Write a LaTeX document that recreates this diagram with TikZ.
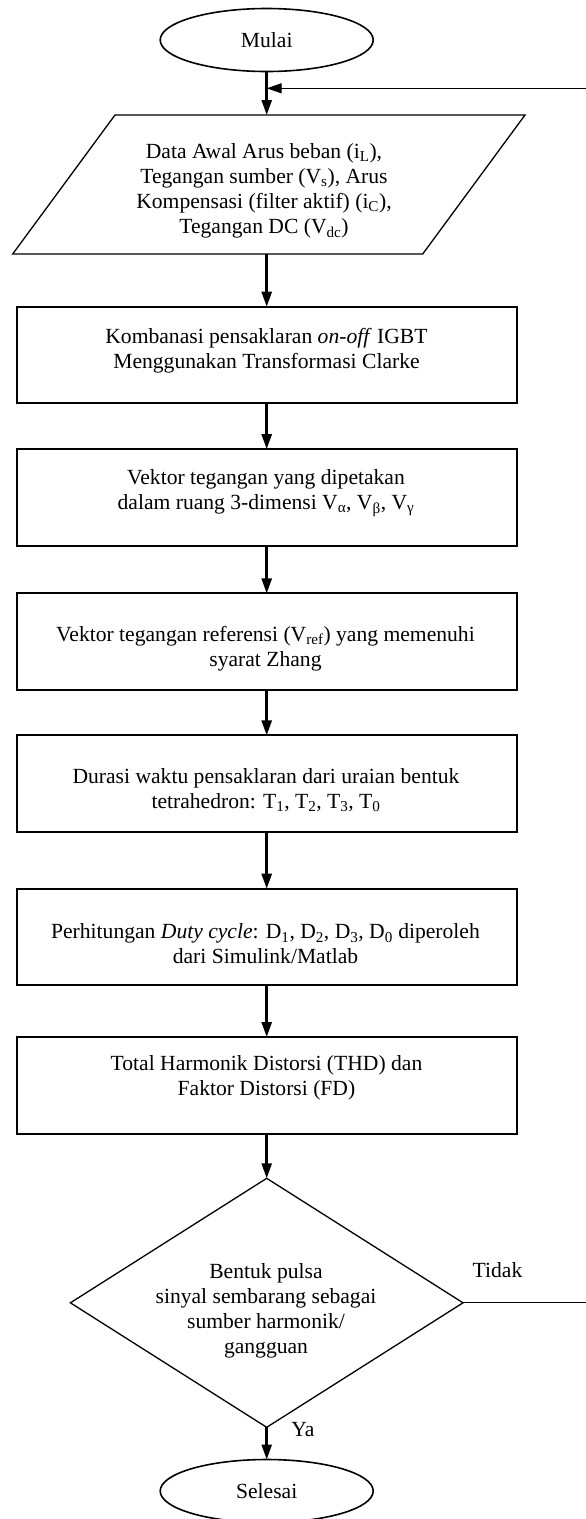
\documentclass[tikz,border=0pt]{standalone}
\usepackage{fontspec}
\setmainfont{Liberation Serif}
\usetikzlibrary{arrows.meta,shapes.geometric}
\newcommand\sbs[1]{\textsubscript{#1}}
\begin{document}
\begin{tikzpicture}[x=1pt,y=-1pt,
  every node/.style={font=\fontsize{21.6}{25}\selectfont, inner sep=0pt, outer sep=0pt},
  txt/.style={align=center},
  termnode/.style={draw, ellipse, line width=1.6pt, minimum width=213pt, minimum height=63pt},
  procbox/.style={draw, rectangle, line width=1.9pt, minimum width=499.8pt, minimum height=96.6pt},
  decision/.style={draw, diamond, line width=1.3pt, minimum width=392.6pt, minimum height=249pt},
  ioline/.style={draw, line width=1.3pt, line join=miter},
  flow/.style={line width=2.5pt, -{Triangle[length=15pt,width=10pt]}},
  fbflow/.style={line width=1.3pt, -{Triangle[length=15pt,width=10pt]}},
  fbplain/.style={line width=1.3pt}]
\useasboundingbox (0,0) rectangle (586,1519);
% start
\node[termnode] (mulai) at (266.7,40) {Mulai};
\coordinate (junc) at (266.7,88.3);
\coordinate (fbin) at (586,88.3);
% input parallelogram
\path[ioline] (115,115) -- (525,115) -- (422.7,254) -- (12.7,254) -- cycle;
\coordinate (ptop) at (266.7,115);
\coordinate (pbot) at (266.7,254);
\node[txt] (tpara) at (264,191) {Data Awal Arus beban (i\sbs{L}),\\Tegangan sumber (V\sbs{s}), Arus\\Kompensasi (filter aktif) (i\sbs{C}),\\Tegangan DC (V\sbs{dc})};
% process boxes
\node[procbox] (b1) at (266.7,355) {};
\node[txt] (t1) at (266.5,351) {Kombanasi pensaklaran \textit{on-off} IGBT\\Menggunakan Transformasi Clarke};
\node[procbox] (b2) at (266.7,497.4) {};
\node[txt] (t2) at (266,493) {Vektor tegangan yang dipetakan\\dalam ruang 3-dimensi V\sbs{α}, V\sbs{β}, V\sbs{γ}};
\node[procbox] (b3) at (266.7,641.7) {};
\node[txt] (t3) at (265.5,648.5) {Vektor tegangan referensi (V\sbs{ref}) yang memenuhi\\syarat Zhang};
\node[procbox] (b4) at (266.7,783.7) {};
\node[txt] (t4) at (266,790) {Durasi waktu pensaklaran dari uraian bentuk\\tetrahedron: T\sbs{1}, T\sbs{2}, T\sbs{3}, T\sbs{0}};
\node[procbox] (b5) at (266.7,937) {};
\node[txt] (t5) at (265.5,944) {Perhitungan \textit{Duty cycle}: D\sbs{1}, D\sbs{2}, D\sbs{3}, D\sbs{0} diperoleh\\dari Simulink/Matlab};
\node[procbox] (b6) at (266.7,1085.3) {};
\node[txt] (t6) at (266.5,1078) {Total Harmonik Distorsi (THD) dan\\Faktor Distorsi (FD)};
% decision
\node[decision] (dec) at (266.7,1302.8) {};
\node[txt] (tdec) at (266,1311) {Bentuk pulsa\\sinyal sembarang sebagai\\sumber harmonik/\\gangguan};
\node (tidak) at (497.5,1270) {Tidak};
\node (ya) at (303,1430) {Ya};
\coordinate (fbout) at (586,1302.8);
% end
\node[termnode] (selesai) at (266.7,1491) {Selesai};
% connectors
\draw[flow] (mulai.south) -- (ptop);
\draw[fbflow] (fbin) -- (junc);
\draw[flow] (pbot) -- (b1.north);
\draw[flow] (b1.south) -- (b2.north);
\draw[flow] (b2.south) -- (b3.north);
\draw[flow] (b3.south) -- (b4.north);
\draw[flow] (b4.south) -- (b5.north);
\draw[flow] (b5.south) -- (b6.north);
\draw[flow] (b6.south) -- (dec.north);
\draw[flow] (dec.south) -- (selesai.north);
\draw[fbplain] (dec.east) -- (fbout);
\end{tikzpicture}
\end{document}
